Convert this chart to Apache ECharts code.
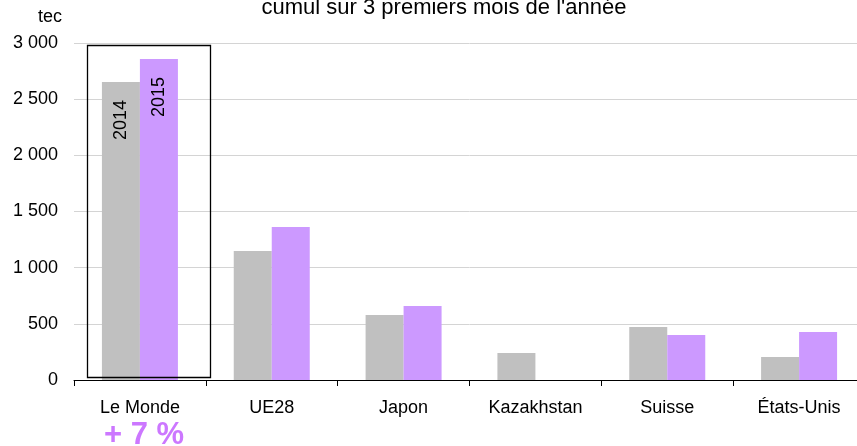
<!DOCTYPE html>
<html>
<head>
<meta charset="utf-8">
<script src="https://cdn.jsdelivr.net/npm/echarts@6/dist/echarts.min.js"></script>
<style>
  html, body { margin: 0; padding: 0; background: #fff; overflow: hidden; }
  #main { width: 865px; height: 446px; }
</style>
</head>
<body>
<div id="main"></div>
<script>
var categories = ['Le Monde', 'UE28', 'Japon', 'Kazakhstan', 'Suisse', 'États-Unis'];
var values2014 = [2653, 1148, 579, 240, 472, 205];
var values2015 = [2858, 1362, 659, null, 400, 427];
var yTicks = [0, 500, 1000, 1500, 2000, 2500, 3000];

var font = 'Liberation Sans, Arial, sans-serif';

function fmt(v) { // espace comme séparateur de milliers
    return String(v).replace(/\B(?=(\d{3})+(?!\d))/g, ' ');
}

var chart = echarts.init(document.getElementById('main'));
chart.setOption({
    animation: false,
    textStyle: { fontFamily: font },
    title: {
        text: "cumul sur 3 premiers mois de l'année",
        left: 439,
        textAlign: 'center',
        top: -8,
        textStyle: { fontFamily: font, fontSize: 22, fontWeight: 'normal', color: '#000' }
    },
    grid: { left: 74, right: 0, top: 43, bottom: 66, containLabel: false },
    xAxis: {
        type: 'category',
        data: categories,
        axisLine: { show: true, lineStyle: { color: '#000', width: 1 } },
        axisTick: { show: true, length: 6, inside: false, lineStyle: { color: '#000' } },
        axisLabel: { color: '#000', fontSize: 18, margin: 19, fontFamily: font }
    },
    yAxis: {
        type: 'value',
        min: yTicks[0],
        max: yTicks[yTicks.length - 1],
        interval: 500,
        name: 'tec',
        nameLocation: 'end',
        nameGap: 17,
        nameTextStyle: { color: '#000', fontSize: 18, align: 'right', padding: [0, 12, 0, 0], fontFamily: font },
        axisLine: { show: false },
        axisTick: { show: false },
        splitLine: { lineStyle: { color: '#d4d4d4', width: 1 } },
        axisLabel: { color: '#000', fontSize: 18, margin: 16, formatter: fmt, fontFamily: font }
    },
    series: [
        {
            name: '2014',
            type: 'bar',
            data: values2014,
            barWidth: 38,
            barGap: '0%',
            itemStyle: { color: '#c0c0c0' },
            label: {
                show: true,
                formatter: function (p) { return p.dataIndex === 0 ? '2014' : ''; },
                position: 'insideTop',
                rotate: 90,
                align: 'right',
                verticalAlign: 'middle',
                distance: 18,
                color: '#000',
                fontSize: 18,
                fontFamily: font
            }
        },
        {
            name: '2015',
            type: 'bar',
            data: values2015,
            barWidth: 38,
            barGap: '0%',
            itemStyle: { color: '#cc99ff' },
            label: {
                show: true,
                formatter: function (p) { return p.dataIndex === 0 ? '2015' : ''; },
                position: 'insideTop',
                rotate: 90,
                align: 'right',
                verticalAlign: 'middle',
                distance: 18,
                color: '#000',
                fontSize: 18,
                fontFamily: font
            }
        }
    ],
    graphic: [
        {
            type: 'rect',
            shape: { x: 87.5, y: 45.5, width: 123, height: 332 },
            style: { fill: 'none', stroke: '#000', lineWidth: 1.3 },
            z: 10
        },
        {
            type: 'text',
            left: 104,
            top: 420,
            style: { text: '+ 7 %', fill: '#cc77ff', font: 'bold 31px ' + font }
        }
    ]
});
</script>
</body>
</html>
